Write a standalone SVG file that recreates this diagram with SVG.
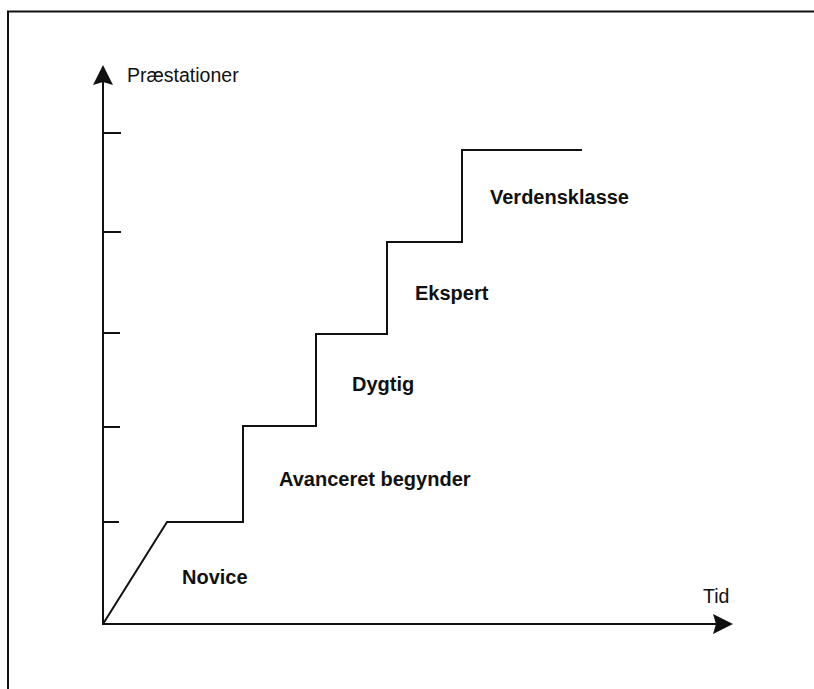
<svg xmlns="http://www.w3.org/2000/svg" width="814" height="689" viewBox="0 0 814 689">
  <style>
    .frame { fill: none; stroke: #111; stroke-width: 2; }
    .axis { fill: none; stroke: #111; stroke-width: 2; }
    .tick { fill: none; stroke: #111; stroke-width: 1.8; }
    .step { fill: none; stroke: #111; stroke-width: 2; stroke-linejoin: miter; }
    .axis-label { font-family: "Liberation Sans", Arial, sans-serif; font-size: 19.5px; fill: #111; }
    .stage { font-family: "Liberation Sans", Arial, sans-serif; font-size: 20px; font-weight: bold; fill: #111; }
  </style>
  <defs>
    <marker id="arrow" viewBox="0 0 20 20" refX="18" refY="10" markerWidth="20" markerHeight="20" markerUnits="userSpaceOnUse" orient="auto">
      <path d="M0,0 L20,10 L0,20 L3,10 Z" fill="#111"/>
    </marker>
  </defs>
  <rect width="814" height="689" fill="#fff"/>

  <!-- page border (top and left edges) -->
  <path class="frame" d="M8,689 L8,11.5 L814,11.5"/>

  <!-- axes -->
  <g id="axes">
    <path class="axis" d="M103,624 L103,67" marker-end="url(#arrow)"/>
    <path class="axis" d="M102,624 L731,624" marker-end="url(#arrow)"/>
    <g id="ticks">
      <path class="tick" d="M103,133 H121 M103,232 H121 M103,333 H120 M103,427 H120 M103,522 H119"/>
    </g>
    <text class="axis-label" x="127" y="82">Præstationer</text>
    <text class="axis-label" x="703" y="603">Tid</text>
  </g>

  <!-- staircase of performance levels -->
  <g id="connectors">
    <path class="step" d="M103,624 L167,522 L243,522 L243,426 L316,426 L316,334 L387,334 L387,242 L462,242 L462,150 L582,150"/>
  </g>

  <g id="novice"><text class="stage" x="182" y="584">Novice</text></g>
  <g id="avanceret-begynder"><text class="stage" x="279" y="486">Avanceret begynder</text></g>
  <g id="dygtig"><text class="stage" x="352" y="391">Dygtig</text></g>
  <g id="ekspert"><text class="stage" x="415" y="300">Ekspert</text></g>
  <g id="verdensklasse"><text class="stage" x="490" y="204">Verdensklasse</text></g>
</svg>
